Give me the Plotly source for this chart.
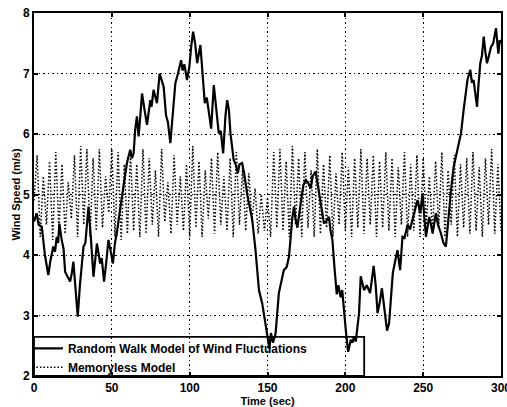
import plotly.graph_objects as go

# Random walk model (solid)
rw_t = [0, 1.7, 3, 5, 7, 9.2, 10.5, 12.4, 13.5, 14.6, 15.5, 16.3, 17.8, 19, 20, 21.5, 23.2, 24.3, 25.3, 26.5,
        28.1, 29.5, 31.8, 33, 35, 36.5, 38.2, 40.4, 41.5, 42.5, 43.5, 45, 46.5, 47.8, 49, 50.7, 52, 53.2, 55, 56.5,
        58, 59.7, 61.8, 63, 64, 65, 66.1, 67.2, 68.3, 69.4, 71, 72.6, 74.7, 75.5, 76.8, 79, 80.7, 83.3, 84.8, 86,
        87.6, 89, 90.8, 92.5, 94.5, 95.5, 96.6, 98.3, 99.8, 101, 102.2, 103.5, 104.8, 106.9, 108, 109.7, 111, 112.2, 113.8, 115.5,
        117, 118.7, 120, 121.5, 123, 124.1, 125.2, 126.2, 128.3, 129.5, 130.9, 132, 133.7, 135, 137, 140.2, 142.3, 144.5, 146.6, 148.7,
        150.2, 151.2, 152.2, 153.5, 155.2, 157.3, 159.5, 160.5, 162.3, 163.8, 165.9, 167, 168, 169.2, 171.3, 173, 174.5, 176, 177.7, 179,
        180.9, 182, 183.7, 185, 186.3, 187.5, 189.5, 190.5, 191.7, 193, 194.5, 195.5, 197, 198, 199.2, 200.5, 201.8, 203.5, 204.5, 205.6,
        206.7, 208.8, 209.9, 211, 212, 213.8, 215.9, 218.2, 219.5, 220.7, 222, 223.5, 225, 226.8, 228.1, 230.5, 232.4, 233.5, 235.2, 236.7,
        238, 240, 241.5, 243.2, 244.5, 246.4, 248.1, 249.6, 250.5, 251.8, 253, 253.9, 255, 256.1, 257, 258.2, 259.5, 261.4, 263, 264.6,
        265.5, 266.8, 268, 269.6, 271.1, 272.5, 274.3, 276, 277.5, 278.5, 280.3, 281.3, 282.4, 283.5, 284.6, 285.5, 286.7, 287.8, 288.9, 290,
        291, 292.3, 293.6, 295, 296.8, 297.5, 298.3, 299.2, 300]
rw_v = [4.55, 4.69, 4.5, 4.47, 4.0, 3.67, 3.9, 4.14, 4.05, 4.30, 4.2, 4.52, 4.25, 4.1, 3.72, 3.65, 3.56, 3.7, 3.89, 3.5,
        2.98, 3.5, 4.14, 4.2, 4.80, 4.3, 3.64, 4.19, 4.0, 3.86, 3.95, 3.56, 3.9, 4.25, 4.1, 3.86, 4.2, 4.36, 4.7, 4.96,
        5.2, 5.52, 5.74, 5.6, 5.68, 6.07, 6.29, 5.96, 6.3, 6.67, 6.4, 6.15, 6.56, 6.45, 6.73, 6.51, 7.0, 6.78, 6.31, 6.2,
        5.85, 6.3, 6.84, 7.0, 7.22, 7.05, 7.15, 6.89, 7.11, 7.45, 7.69, 7.5, 7.17, 7.47, 7.1, 6.51, 6.6, 6.34, 6.09, 6.81,
        6.4, 6.01, 6.05, 5.68, 6.3, 6.56, 6.4, 6.01, 5.57, 5.5, 5.35, 5.5, 5.52, 5.35, 5.0, 4.58, 4.08, 3.42, 3.20, 2.90,
        2.62, 2.45, 2.71, 2.55, 2.7, 3.37, 3.64, 3.75, 3.8, 3.97, 4.6, 4.8, 4.6, 4.45, 4.85, 5.15, 5.24, 5.2, 5.1, 5.3,
        5.38, 5.2, 4.96, 4.7, 4.52, 4.55, 4.63, 4.4, 4.25, 3.8, 3.35, 3.5, 3.3, 3.42, 3.0, 2.7, 2.40, 2.60, 2.55, 2.65,
        2.57, 3.04, 3.65, 3.5, 3.42, 3.5, 3.37, 3.82, 3.5, 3.04, 3.2, 3.45, 3.1, 2.75, 2.87, 3.70, 3.95, 4.08, 3.75, 4.3,
        4.28, 4.5, 4.42, 4.6, 4.75, 4.91, 4.69, 5.02, 4.7, 4.30, 4.5, 4.63, 4.5, 4.36, 4.5, 4.69, 4.5, 4.36, 4.2, 4.14,
        4.4, 4.80, 5.1, 5.46, 5.63, 5.8, 6.01, 6.4, 6.73, 6.9, 7.06, 6.85, 6.89, 6.7, 6.45, 6.8, 7.17, 7.3, 7.61, 7.35,
        7.17, 7.3, 7.44, 7.5, 7.75, 7.55, 7.33, 7.55, 7.5]

# Memoryless model (dotted) - sampled every 2 s
ml_t = list(range(0, 301, 2))
ml_v = [4.9, 5.65, 4.3, 5.3, 4.5, 5.55, 4.25, 5.7, 4.4, 5.5, 4.35, 5.2, 4.6, 5.65, 4.3, 5.8, 4.5, 5.75, 4.3, 5.6,
        4.4, 5.75, 4.45, 5.3, 4.7, 5.75, 4.3, 5.7, 4.25, 5.5, 4.35, 5.7, 4.4, 5.5, 4.3, 5.75, 4.35, 5.6, 4.5, 5.4,
        4.3, 5.75, 4.55, 5.2, 4.35, 5.65, 4.5, 5.3, 4.4, 5.5, 4.3, 5.8, 4.45, 5.55, 4.3, 5.4, 4.6, 5.6, 4.35, 5.7,
        4.5, 5.3, 4.4, 5.6, 4.3, 5.7, 4.5, 5.45, 4.4, 5.35, 4.55, 5.1, 4.35, 5.0, 4.4, 4.95, 4.3, 5.7, 4.45, 5.75,
        4.4, 5.55, 4.3, 5.8, 4.5, 5.6, 4.3, 5.7, 4.45, 5.4, 4.3, 5.75, 4.35, 5.5, 4.45, 5.65, 4.3, 5.35, 4.5, 5.7,
        4.4, 5.45, 4.3, 5.6, 4.45, 5.75, 4.35, 5.6, 4.5, 5.65, 4.3, 5.55, 4.45, 5.7, 4.4, 5.6, 4.3, 5.45, 4.5, 5.7,
        4.3, 5.5, 4.4, 5.65, 4.3, 5.6, 4.5, 5.3, 4.35, 5.55, 4.45, 5.7, 4.3, 5.4, 4.5, 5.65, 4.3, 5.5, 4.45, 5.6,
        4.35, 5.7, 4.4, 5.45, 4.3, 5.6, 4.5, 5.75, 4.35, 5.5, 4.4]

x_ticks = [0, 50, 100, 150, 200, 250, 300]
y_ticks = [2, 3, 4, 5, 6, 7, 8]

FONT = "Liberation Sans"

fig = go.Figure()
fig.add_trace(go.Scatter(x=rw_t, y=rw_v, mode="lines",
                         name="<b>Random Walk Model of Wind Fluctuations</b>",
                         line=dict(color="black", width=2.2)))
fig.add_trace(go.Scatter(x=ml_t, y=ml_v, mode="lines",
                         name="<b>Memoryless Model</b>",
                         line=dict(color="black", width=1.5, dash="1.5px,2px")))

axis_common = dict(showline=True, linecolor="black", linewidth=2, mirror="ticks",
                   ticks="inside", ticklen=4, tickcolor="black", tickwidth=1.5,
                   showgrid=True, gridcolor="black", griddash="1.5px,3px", gridwidth=1.2,
                   zeroline=False, automargin=False, ticklabeloverflow="allow",
                   tickfont=dict(family=FONT, size=12, color="black"))

fig.update_xaxes(range=[0, 300], tickvals=x_ticks, ticktext=[f"<b>{t}</b>" for t in x_ticks],
                 title=dict(text="<b>Time (sec)</b>", font=dict(family=FONT, size=11, color="black"), standoff=0),
                 ticklabelstandoff=0,
                 **axis_common)
fig.update_yaxes(range=[2, 8], tickvals=y_ticks, ticktext=[f"<b>{t}</b>" for t in y_ticks],
                 title=dict(text="<b>Wind Speed (m/s)</b>", font=dict(family=FONT, size=11, color="black"), standoff=0),
                 **axis_common)

fig.add_shape(type="rect", xref="x domain", yref="y domain", x0=0, x1=0.707, y0=0, y1=0.108,
              line=dict(color="black", width=1.8), fillcolor="rgba(0,0,0,0)", layer="above")

fig.update_layout(width=507, height=407, margin=dict(l=34, r=6, t=13, b=31),
                  paper_bgcolor="white", plot_bgcolor="white",
                  showlegend=True,
                  legend=dict(x=-0.013, y=-0.016, xanchor="left", yanchor="bottom",
                              bgcolor="rgba(0,0,0,0)", borderwidth=0,
                              font=dict(family=FONT, size=12, color="black"),
                              itemwidth=30, tracegroupgap=0))

fig.write_html("out.html", config={"displayModeBar": False},
               post_script="document.body.style.margin='0px';")
